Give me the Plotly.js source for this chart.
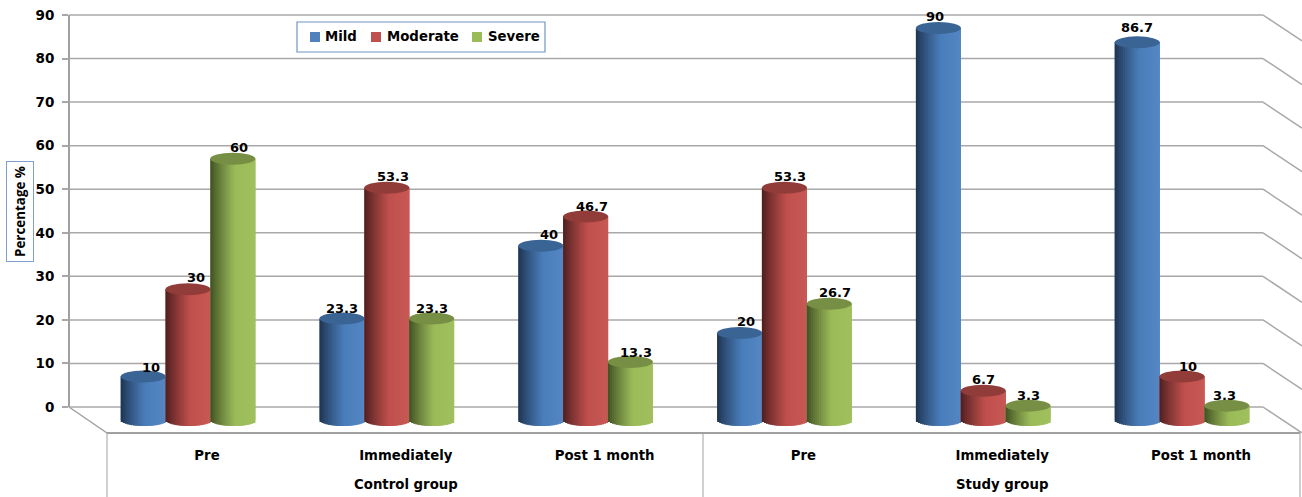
<!DOCTYPE html>
<html>
<head>
<meta charset="utf-8">
<script src="https://cdn.plot.ly/plotly-3.0.1.min.js"></script>
<style>html,body{margin:0;padding:0;background:#fff;overflow:hidden}</style>
</head>
<body>
<div id="chart" style="width:1302px;height:497px"></div>
<script>
// Percentage of mild, moderate and severe cases per group and time point
const timePoints = ["Pre", "Immediately", "Post 1 month", "Pre", "Immediately", "Post 1 month"];
const groups = ["Control group", "Study group"];
const mild = [10, 23.3, 40, 20, 90, 86.7];
const moderate = [30, 53.3, 46.7, 53.3, 6.7, 10];
const severe = [60, 23.3, 13.3, 26.7, 3.3, 3.3];
const yTicks = [0, 10, 20, 30, 40, 50, 60, 70, 80, 90];

// Page geometry, in pixels
const W = 1302, H = 497;
const plotL = 69, plotT = 10, plotB = 433;
const pxPerUnit = 4.3556;      // vertical pixels per percentage point
const wallZeroY = 407;         // back wall zero line
const barZeroY = 420;          // bars stand nearer the viewer, so lower on the page
const slotPx = 198.8, firstSlotX = 188;
const barStep = 44.8 / slotPx, barWidth = 45 / slotPx;
const capHalf = 6 / pxPerUnit;
const labelShift = 19 / slotPx; // floor labels sit on the front edge, right of the bars

const xRange = [(plotL - firstSlotX) / slotPx, (W - firstSlotX) / slotPx];
const wallRange = [(wallZeroY - plotB) / pxPerUnit, (wallZeroY - plotT) / pxPerUnit];
const barRange = [(barZeroY - plotB) / pxPerUnit, (barZeroY - plotT) / pxPerUnit];

const paperX = x => (x - plotL) / (W - plotL);
const paperY = y => (plotB - y) / (plotB - plotT);

const seriesStyle = [
  {name: "Mild", values: mild, dark: [30, 50, 78], mid: [74, 126, 187], edge: [84, 134, 194], cap: [58, 100, 148], swatch: "#4f81bd"},
  {name: "Moderate", values: moderate, dark: [76, 30, 30], mid: [192, 80, 77], edge: [200, 88, 84], cap: [146, 60, 58], swatch: "#c0504d"},
  {name: "Severe", values: severe, dark: [62, 78, 34], mid: [155, 187, 89], edge: [160, 192, 94], cap: [118, 143, 68], swatch: "#9bbb59"}
];

// Shade across a cylinder: dark left edge rising to the body colour past the middle
function shade(s, t) {
  const mix = (a, b, k) => a.map((v, i) => Math.round(v + (b[i] - v) * k));
  const c = t < 0.55 ? mix(s.dark, s.mid, Math.pow(t / 0.55, 0.85)) : mix(s.mid, s.edge, (t - 0.55) / 0.45);
  return `rgb(${c[0]},${c[1]},${c[2]})`;
}

const STRIPS = 22;
const traces = [];
const shapes = [];

const gridColor = "#a8a8a8";
const line = (o, c, w) => Object.assign({type: "line", layer: "below", line: {color: c || gridColor, width: w || 1.5}}, o);

// Back wall rules and the receding side-wall rules
const wallRightX = (1263 - firstSlotX) / slotPx;
const depthX = 39 / slotPx, depthY = 26 / pxPerUnit;
yTicks.forEach(v => {
  shapes.push(line({xref: "x", yref: "y", x0: xRange[0], x1: wallRightX, y0: v, y1: v}));
  shapes.push(line({xref: "x", yref: "y", x0: wallRightX, x1: wallRightX + depthX, y0: v, y1: v - depthY}));
});
// Left wall edge, floor edges and the category frame
const frame = "#a0a0a0";
const pline = (x0, y0, x1, y1, w, c) => line({xref: "paper", yref: "paper", x0: paperX(x0), x1: paperX(x1), y0: paperY(y0), y1: paperY(y1)}, c || frame, w);
shapes.push(pline(69, 15, 69, wallZeroY, 2));
shapes.push(pline(69, wallZeroY, 107, 433, 1.5));
shapes.push(pline(107, 433, 1300, 433, 2));
shapes.push(pline(107, 433, 107, 497, 1));
shapes.push(pline(703, 433, 703, 497, 1));
shapes.push(pline(1300, 433, 1300, 497, 1));

const annotations = [];
// Label nudges in pixels [right, up], one per bar
const nudges = [
  [[8, 9], [0, 10], [8, 11], [6, 11], [-3, 12], [0, 15]],
  [[8, 12], [6, 11], [6, 10], [6, 11], [0, 11], [6, 10]],
  [[6, 11], [0, 10], [6, 10], [6, 11], [0, 10], [-2, 10]]
];

seriesStyle.forEach((s, si) => {
  const centers = timePoints.map((_, i) => i + (si - 1) * barStep);

  // Body of each bar, straight from the series values
  traces.push({
    type: "bar", name: s.name, x: centers, y: s.values, width: barWidth,
    yaxis: "y2", marker: {color: s.swatch, line: {width: 0}}, hoverinfo: "skip", showlegend: false
  });

  // Overlapping strips over the body give the round shading; arcs close the foot
  const sx = [], sw = [], sy = [], sc = [], ay = [], ab = [];
  const w = barWidth / STRIPS;
  centers.forEach((c, i) => {
    const left = c - barWidth / 2, right = c + barWidth / 2;
    for (let k = 0; k < STRIPS; k++) {
      const t = (k + 0.5) / STRIPS, u = 2 * t - 1;
      const x0 = left + k * w, x1 = Math.min(x0 + 2 * w, right);
      const arc = capHalf * Math.sqrt(1 - u * u);
      sx.push((x0 + x1) / 2); sw.push(x1 - x0); sy.push(s.values[i]); sc.push(shade(s, t));
      ay.push(arc); ab.push(-arc);
    }
    const cap = s.cap;
    shapes.push({
      type: "circle", layer: "above", xref: "x", yref: "y2",
      x0: left, x1: right,
      y0: s.values[i] - capHalf, y1: s.values[i] + capHalf,
      fillcolor: `rgb(${cap[0]},${cap[1]},${cap[2]})`, line: {width: 0}
    });
    annotations.push({
      xref: "x", yref: "y2", x: c, y: s.values[i], text: String(s.values[i]), showarrow: false,
      xshift: nudges[si][i][0], yshift: nudges[si][i][1],
      font: {family: "DejaVu Sans", size: 13, color: "#000", weight: 700}
    });
  });
  traces.push({type: "bar", x: sx, y: sy, width: sw, yaxis: "y2", marker: {color: sc, line: {width: 0}}, hoverinfo: "skip", showlegend: false});
  traces.push({type: "bar", x: sx, y: ay, base: ab, width: sw, yaxis: "y2", marker: {color: sc, line: {width: 0}}, hoverinfo: "skip", showlegend: false});
});

const bold = (size) => ({family: "DejaVu Sans", size: size, color: "#000", weight: 700});

// Group names under the time points
groups.forEach((g, i) => {
  annotations.push({
    xref: "x", yref: "paper", x: 1 + 3 * i + labelShift, y: paperY(484), text: g,
    showarrow: false, font: bold(13.3), yanchor: "middle"
  });
});

// Axis name in its small box
annotations.push({
  xref: "paper", yref: "paper", x: paperX(20), y: paperY(212), text: "Percentage %", textangle: -90,
  showarrow: false, font: {family: "Open Sans", size: 13.4, color: "#000", weight: 700},
  bordercolor: "#7f9fcf", borderwidth: 1, borderpad: 4, bgcolor: "#fff", xanchor: "center", yanchor: "middle"
});

// Series key: framed row of swatches and names
shapes.push({type: "rect", layer: "above", xref: "paper", yref: "paper", x0: paperX(297), x1: paperX(545), y0: paperY(52), y1: paperY(22), fillcolor: "#fff", line: {color: "#6f94c8", width: 1.2}});
const keyPos = [[310, 325], [371, 387], [472, 488]];
seriesStyle.forEach((s, i) => {
  shapes.push({type: "rect", layer: "above", xref: "paper", yref: "paper", x0: paperX(keyPos[i][0]), x1: paperX(keyPos[i][0] + 10), y0: paperY(42), y1: paperY(32), fillcolor: s.swatch, line: {width: 0}});
  annotations.push({xref: "paper", yref: "paper", x: paperX(keyPos[i][1]), y: paperY(37), text: s.name, showarrow: false, xanchor: "left", yanchor: "middle", xshift: -2, font: bold(13.3)});
});

const layout = {
  width: W, height: H,
  paper_bgcolor: "#fff", plot_bgcolor: "#fff",
  margin: {l: plotL, r: 0, t: plotT, b: H - plotB, pad: 0},
  barmode: "overlay", showlegend: false,
  xaxis: {
    range: xRange, tickmode: "array",
    tickvals: timePoints.map((_, i) => i + labelShift), ticktext: timePoints,
    ticks: "", ticklabelstandoff: 13, showgrid: false, zeroline: false, showline: false,
    tickfont: bold(13.3), fixedrange: true
  },
  yaxis: {
    range: wallRange, tickmode: "array", tickvals: yTicks, ticktext: yTicks.map(String),
    ticks: "outside", ticklen: 6, tickwidth: 1.5, tickcolor: gridColor, ticklabelstandoff: 5,
    showgrid: false, zeroline: false, showline: false, tickfont: bold(13.5), fixedrange: true
  },
  yaxis2: {range: barRange, overlaying: "y", visible: false, fixedrange: true},
  shapes: shapes, annotations: annotations
};

Plotly.newPlot("chart", traces, layout, {displayModeBar: false, responsive: false});
</script>
</body>
</html>
